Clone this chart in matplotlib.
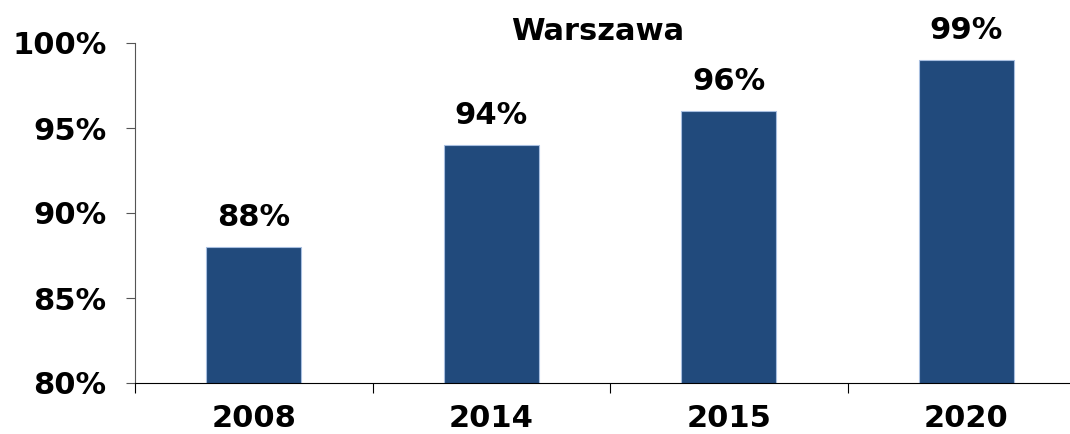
import matplotlib
matplotlib.use("Agg")
import matplotlib.pyplot as plt
from matplotlib.ticker import FixedLocator, NullFormatter

years = ["2008", "2014", "2015", "2020"]
values = [88, 94, 96, 99]
title = "Warszawa"

plt.rcParams['font.family'] = ['DejaVu Sans']
plt.rcParams['font.weight'] = 'bold'

fig = plt.figure(figsize=(10.7, 4.34), dpi=100)
# axis runs a bit past the right edge, like the original
ax = fig.add_axes([135 / 1070, 51 / 434, 950 / 1070, 340 / 434])

pos = list(range(len(years)))
bars = ax.bar(pos, values, width=0.4, color="#214a7c", edgecolor="#a8bfe0", linewidth=0.8)

for x, v in zip(pos, values):
    ax.annotate(f"{v}%", (x, v), xytext=(0, 11), textcoords="offset points",
                ha="center", va="bottom", fontsize=22, fontweight="bold")

ax.set_xlim(-0.5, len(years) - 0.5)
ax.set_ylim(80, 100)
ax.set_yticks([80, 85, 90, 95, 100])
ax.set_yticklabels([f"{t}%" for t in [80, 85, 90, 95, 100]], fontsize=22, fontweight="bold")

# boundary ticks (major) and centred labels (minor)
ax.xaxis.set_major_locator(FixedLocator([p - 0.5 for p in pos] + [len(years) - 0.5]))
ax.xaxis.set_major_formatter(NullFormatter())
ax.xaxis.set_minor_locator(FixedLocator(pos))
ax.set_xticklabels(years, minor=True, fontsize=22, fontweight="bold")
ax.tick_params(axis="x", which="major", length=7, direction="out", color="black")
ax.tick_params(axis="x", which="minor", length=0, pad=15)
ax.tick_params(axis="y", length=6.5, direction="out", pad=14, color="#555555")

ax.spines["top"].set_visible(False)
ax.spines["right"].set_visible(False)
ax.spines["left"].set_color("#555555")
ax.spines["bottom"].set_color("black")

fig.text(598 / 1070, 1 - 31 / 434, title, ha="center", va="center", fontsize=22, fontweight="bold")

fig.savefig("out.png", dpi=100)
